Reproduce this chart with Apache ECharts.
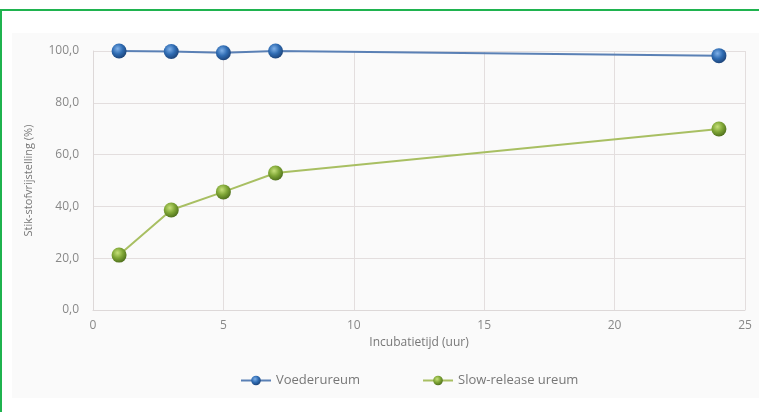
<!DOCTYPE html>
<html><head><meta charset="utf-8">
<script src="https://cdn.jsdelivr.net/npm/echarts@6/dist/echarts.min.js"></script>
<style>
html,body{margin:0;padding:0;background:#fff;}
#wrap{position:absolute;left:0;top:9px;width:759px;height:403px;border-top:2px solid #1fb34f;border-left:2px solid #1fb34f;box-sizing:border-box;}
#bg{position:absolute;left:12px;top:33px;width:747px;height:365px;background:#fafafa;}
#c{position:absolute;left:0;top:0;width:759px;height:412px;}
</style></head>
<body>
<div id="wrap"></div><div id="bg"></div>
<div id="c"></div>
<script>
const hours = [1, 3, 5, 7, 24];
const voederureum = [100.0, 99.8, 99.3, 100.0, 98.2];
const slowRelease = [21.2, 38.6, 45.6, 52.9, 69.9];
const seriesNames = ['Voederureum', 'Slow-release ureum'];
const xTitle = 'Incubatietijd (uur)';
const yTitle = 'Stik-stofvrijstelling (%)';

function sphere(light, mid, dark){
  return new echarts.graphic.RadialGradient(0.4, 0.35, 0.7, [
    {offset:0, color:light},{offset:0.5, color:mid},{offset:1, color:dark}
  ]);
}
const chart = echarts.init(document.getElementById('c'), null, {renderer:'canvas'});
const font = 'Open Sans';
chart.setOption({
  animation:false,
  backgroundColor:'transparent',
  grid:{left:93, right:14, top:51, bottom:102},
  legend:{
    bottom:20, left:235, itemWidth:30, itemHeight:12, itemGap:62,
    textStyle:{color:'#777', fontFamily:font, fontSize:13},
    data:seriesNames
  },
  xAxis:{
    type:'value', min:0, max:25, interval:5,
    name:xTitle, nameLocation:'middle', nameGap:22,
    nameTextStyle:{color:'#777', fontFamily:font, fontSize:12},
    axisLine:{show:true, lineStyle:{color:'#ddd8d8'}},
    axisTick:{show:false},
    axisLabel:{color:'#888', fontFamily:font, fontSize:12, margin:10},
    splitLine:{show:true, lineStyle:{color:'#e3dede'}}
  },
  yAxis:{
    type:'value', min:0, max:100, interval:20,
    name:yTitle, nameLocation:'middle', nameGap:59, nameRotate:90,
    nameTextStyle:{color:'#777', fontFamily:font, fontSize:11},
    axisLine:{show:true, lineStyle:{color:'#ddd8d8'}},
    axisTick:{show:false},
    axisLabel:{color:'#888', fontFamily:font, fontSize:12, margin:14,
      formatter:v=>v.toFixed(1).replace('.',',')},
    splitLine:{show:true, lineStyle:{color:'#e3dede'}}
  },
  series:[
    {
      name:seriesNames[0], type:'line',
      data:hours.map((h,i)=>[h, voederureum[i]]),
      symbol:'circle', symbolSize:15,
      lineStyle:{color:'#5a80b5', width:2},
      itemStyle:{color:sphere('#7fb0e8','#2f6cb3','#1a3f73'), borderWidth:0},
      z:3
    },
    {
      name:seriesNames[1], type:'line',
      data:hours.map((h,i)=>[h, slowRelease[i]]),
      symbol:'circle', symbolSize:15,
      lineStyle:{color:'#a8bf62', width:2},
      itemStyle:{color:sphere('#c6e07a','#7fa636','#4a6a1a'), borderWidth:0},
      z:3
    }
  ]
});
</script>
</body></html>
